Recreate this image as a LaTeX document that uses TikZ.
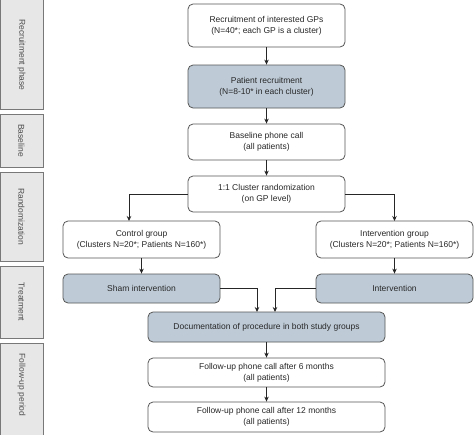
\documentclass[tikz,border=0pt]{standalone}
\usepackage{fontspec}
\setmainfont{Liberation Sans}
\usetikzlibrary{arrows.meta}
\definecolor{bluebox}{RGB}{190,203,215}
\definecolor{phasefill}{RGB}{231,231,231}
\definecolor{phaseedge}{RGB}{120,120,120}
\definecolor{boxedge}{RGB}{85,85,85}
\definecolor{txt}{RGB}{40,40,40}
\tikzset{
  x=1pt, y=-1pt,
  mainbox/.style={draw=boxedge, line width=0.8pt, rounded corners=5pt, fill=white,
    text=txt, font=\fontsize{8.5}{11}\selectfont, align=center, inner sep=0pt,
    minimum width=157pt},
  widebox/.style={mainbox, minimum width=237pt},
  bluefill/.style={fill=bluebox},
  phasebox/.style={draw=phaseedge, line width=0.8pt, fill=phasefill},
  phaselabel/.style={rotate=-90, text=black!70, font=\fontsize{8.5}{10}\selectfont},
  arr/.style={draw=black!85, line width=0.8pt, -{Stealth[length=5pt,width=4.5pt]}}
}
\begin{document}
\begin{tikzpicture}
\useasboundingbox (0,0) rectangle (474,434);
% phase column
\draw[phasebox] (0.5,-2) rectangle (43,109);
\node[phaselabel] (p1) at (21.5,55) {Recruitment phase};
\draw[phasebox] (0.5,114) rectangle (43,167);
\node[phaselabel] (p2) at (21.5,140.5) {Baseline};
\draw[phasebox] (0.5,172) rectangle (43,261);
\node[phaselabel] (p3) at (21.5,216.5) {Randomization};
\draw[phasebox] (0.5,266) rectangle (43,338);
\node[phaselabel] (p4) at (21.5,302) {Treatment};
\draw[phasebox] (0.5,343) rectangle (43,440);
\node[phaselabel] (p5) at (21.5,385) {Follow-up period};
% main boxes
\node[mainbox, minimum height=43pt] (recruit) at (266.5,25.5) {Recruitment of interested GPs\\(N=40*; each GP is a cluster)};
\node[mainbox, bluefill, minimum height=43pt] (patient) at (266.5,86.5) {Patient recruitment\\(N=8-10* in each cluster)};
\node[mainbox, minimum height=36pt] (baseline) at (266.5,142) {Baseline phone call\\(all patients)};
\node[mainbox, minimum height=36pt] (random) at (266.5,194) {1:1 Cluster randomization\\(on GP level)};
\node[mainbox, minimum height=37pt] (control) at (141.5,239.5) {Control group\\(Clusters N=20*; Patients N=160*)};
\node[mainbox, minimum height=37pt] (intgroup) at (394.5,239.5) {Intervention group\\(Clusters N=20*; Patients N=160*)};
\node[mainbox, bluefill, minimum height=29pt] (sham) at (141.5,288.5) {Sham intervention};
\node[mainbox, bluefill, minimum height=29pt] (interv) at (394.5,288.5) {Intervention};
\node[widebox, bluefill, minimum height=30pt] (doc) at (266.5,327) {Documentation of procedure in both study groups};
\node[widebox, minimum height=29pt] (fu6) at (266.5,372.5) {Follow-up phone call after 6 months\\(all patients)};
\node[widebox, minimum height=30pt] (fu12) at (266.5,417) {Follow-up phone call after 12 months\\(all patients)};
% connector end points
\coordinate (cl) at (129,221);
\coordinate (ir) at (394.5,221);
\coordinate (dl) at (257,312);
\coordinate (dr) at (275,312);
% connectors
\draw[arr] (recruit) -- (patient);
\draw[arr] (patient) -- (baseline);
\draw[arr] (baseline) -- (random);
\draw[arr] (random.west) -| (cl);
\draw[arr] (random.east) -| (ir);
\draw[arr] (control) -- (sham);
\draw[arr] (intgroup) -- (interv);
\draw[arr] (sham.east) -| (dl);
\draw[arr] (interv.west) -| (dr);
\draw[arr] (doc) -- (fu6);
\draw[arr] (fu6) -- (fu12);
\end{tikzpicture}
\end{document}
